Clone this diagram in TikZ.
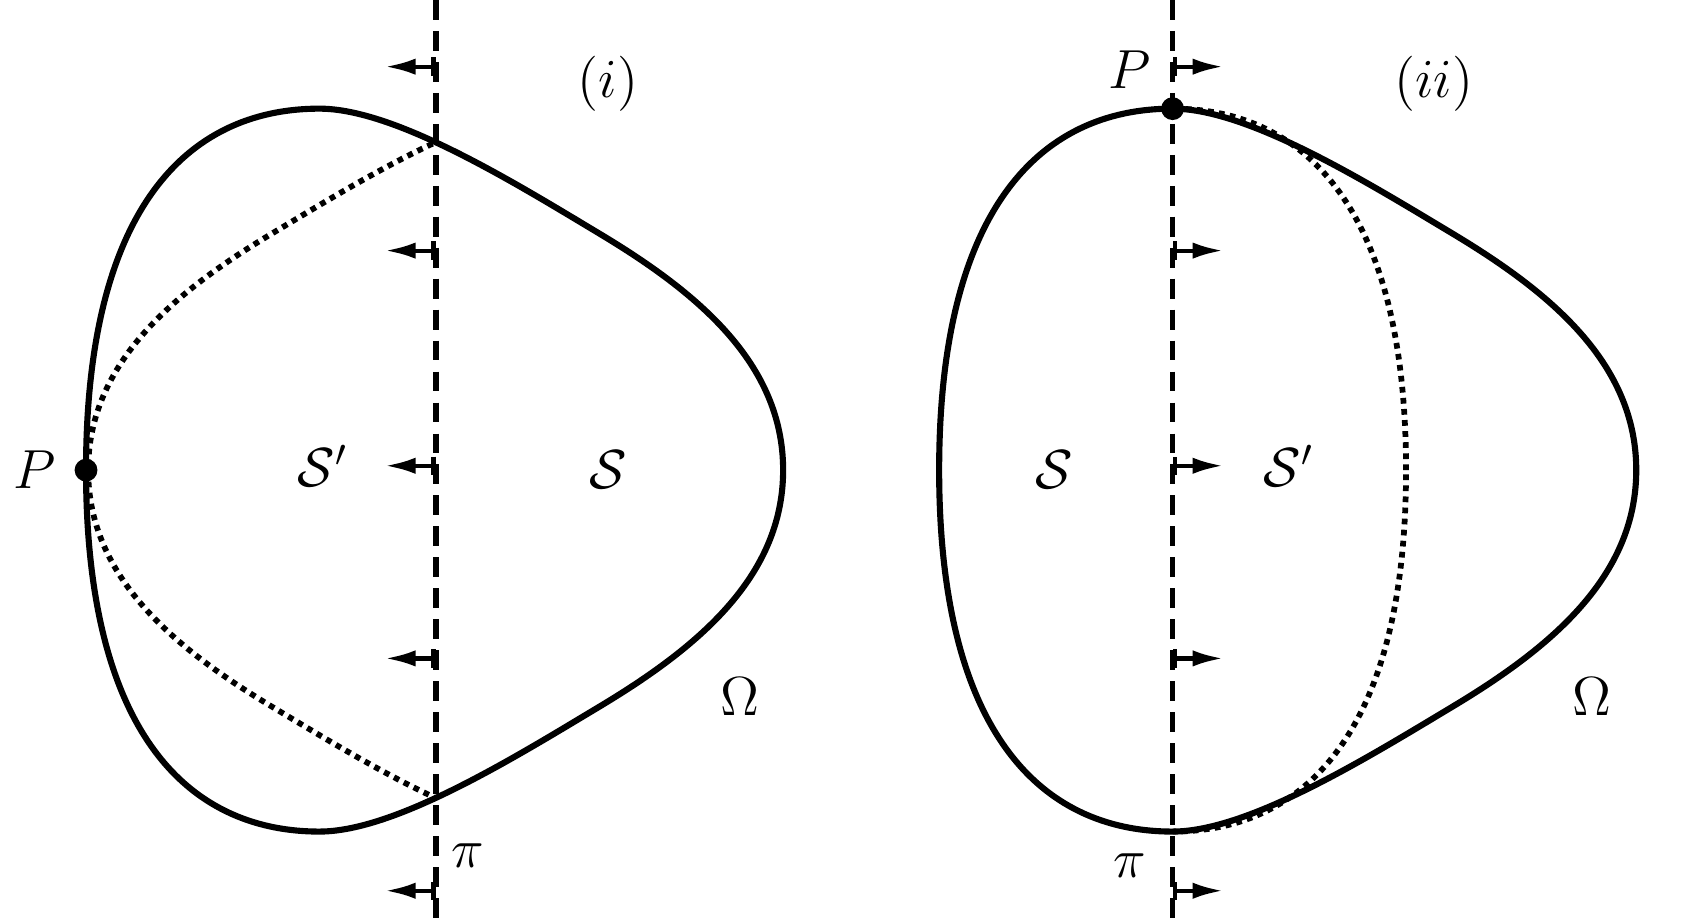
\documentclass[tikz,border=0pt]{standalone}
\usetikzlibrary{arrows.meta,positioning}

% boundary of Omega, centred on its widest horizontal chord
\newcommand{\omegacurve}{(-2.17,0) .. controls (-2.17,2.4) and (-1.25,3.36) .. (0,3.36)
 .. controls (0.7,3.36) and (1.8,2.68) .. (2.6,2.2)
 .. controls (3.5,1.66) and (4.31,1.0) .. (4.31,0)
 .. controls (4.31,-1.0) and (3.5,-1.66) .. (2.6,-2.2)
 .. controls (1.8,-2.68) and (0.7,-3.36) .. (0,-3.36)
 .. controls (-1.25,-3.36) and (-2.17,-2.4) .. (-2.17,0) -- cycle}

\tikzset{
  boundary/.style={line width=1.6pt},
  mirror/.style={line width=1.5pt, dash pattern=on 1.5pt off 1.4pt},
  plane/.style={line width=1.5pt, dash pattern=on 5.2pt off 2.9pt},
  push/.style={line width=1.1pt, arrows={Bar[width=1.7mm]-Latex[length=2.8mm,width=1.5mm]}},
  lbl/.style={font=\Large, inner sep=1pt},
  pt/.style={circle, fill, inner sep=0pt, minimum size=2.1mm}
}

\begin{document}
\begin{tikzpicture}
\useasboundingbox (0,0) rectangle (15.5,8.46);

% (i)
\begin{scope}[shift={(2.937,4.138)}, scale=0.989]
\begin{scope}[xshift=2.16cm, xscale=-1]
\clip (1.08,-4) rectangle (5,4);
\draw[mirror] \omegacurve;
\end{scope}
\draw[boundary] \omegacurve;
\end{scope}
\coordinate (pitopA) at (4.005,8.46);
\coordinate (pibotA) at (4.005,0);
\draw[plane] (pitopA) -- (pibotA);
\foreach \y in {7.847,6.156,4.178,2.407,0.271}
  \draw[push] (4.005,\y) -- ++(-0.465,0);
\node[pt] (PA) at (0.791,4.138) {};
\node[lbl, left=0.12cm of PA] (labPA) {$P$};
\node[lbl] (SpA) at (2.967,4.178) {$\mathcal{S}'$};
\node[lbl] (SA) at (5.588,4.138) {$\mathcal{S}$};
\node[lbl] (OmA) at (6.804,2.051) {$\Omega$};
\node[lbl] (piA) at (4.302,0.597) {$\pi$};
\node[lbl] (capA) at (5.588,7.689) {$(i)$};

% (ii)
\begin{scope}[shift={(10.78,4.138)}, scale=0.989]
\begin{scope}[xscale=-1]
\clip (-3,-4) rectangle (0,4);
\draw[mirror] \omegacurve;
\end{scope}
\draw[boundary] \omegacurve;
\end{scope}
\coordinate (pitopB) at (10.78,8.46);
\coordinate (pibotB) at (10.78,0);
\draw[plane] (pitopB) -- (pibotB);
\foreach \y in {7.847,6.156,4.178,2.407,0.271}
  \draw[push] (10.78,\y) -- ++(0.465,0);
\node[pt] (PB) at (10.78,7.461) {};
\node[lbl] (labPB) at (10.385,7.817) {$P$};
\node[lbl] (SB) at (9.692,4.138) {$\mathcal{S}$};
\node[lbl] (SpB) at (11.848,4.178) {$\mathcal{S}'$};
\node[lbl] (OmB) at (14.637,2.051) {$\Omega$};
\node[lbl] (piB) at (10.385,0.499) {$\pi$};
\node[lbl] (capB) at (13.183,7.689) {$(ii)$};
\end{tikzpicture}
\end{document}
